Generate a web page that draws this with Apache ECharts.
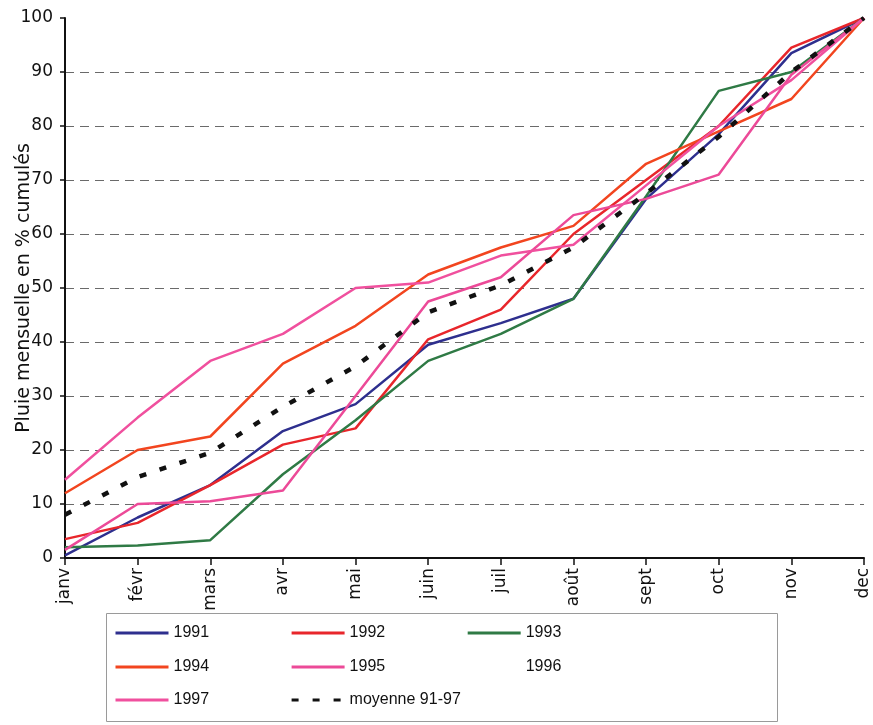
<!DOCTYPE html>
<html>
<head>
<meta charset="utf-8">
<script src="https://cdn.jsdelivr.net/npm/echarts@6/dist/echarts.min.js"></script>
<style>
  html, body { margin: 0; padding: 0; background: #fff; }
  #chart { width: 873px; height: 725px; }
</style>
</head>
<body>
<div id="chart"></div>
<script>
// Cumulative monthly rainfall, % of the yearly total
const months = ['janv', 'févr', 'mars', 'avr', 'mai', 'juin', 'juil', 'août', 'sept', 'oct', 'nov', 'dec'];
const yTicks = [0, 10, 20, 30, 40, 50, 60, 70, 80, 90, 100];

const y1991 = [0.5, 7.5, 13.5, 23.5, 28.5, 39.5, 43.5, 48, 66.5, 78.5, 93.5, 100];
const y1992 = [3.5, 6.5, 13.5, 21, 24, 40.5, 46, 60, 70, 80, 94.5, 100];
const y1993 = [2, 2.3, 3.3, 15.5, 25.5, 36.5, 41.5, 48, 67, 86.5, 90, 100];
const y1994 = [12, 20, 22.5, 36, 43, 52.5, 57.5, 61.5, 73, 79, 85, 100];
const y1995 = [1.5, 10, 10.5, 12.5, 30, 47.5, 52, 63.5, 66.5, 71, 89.5, 100];
const y1996 = [];
const y1997 = [14.5, 26, 36.5, 41.5, 50, 51, 56, 58, 69, 80, 88.5, 100];
const moyenne = [8, 15, 19.5, 28, 35.5, 45.5, 50.5, 57.5, 67.5, 78, 90, 100];

const names = ['1991', '1992', '1993', '1994', '1995', '1996', '1997', 'moyenne 91-97'];
const colors = ['#2E2F8E', '#E8262B', '#2F7A45', '#F2451F', '#EC4A98', 'rgba(0,0,0,0)', '#F0509E', '#111111'];
const values = [y1991, y1992, y1993, y1994, y1995, y1996, y1997, moyenne];

const chart = echarts.init(document.getElementById('chart'));

const series = names.map((n, i) => {
  const dashed = i === 7;
  return {
    name: n,
    type: 'line',
    data: values[i],
    symbol: 'none',
    showSymbol: false,
    smooth: false,
    z: dashed ? 10 : 2,
    itemStyle: { color: colors[i] },
    lineStyle: {
      color: colors[i],
      width: dashed ? 4.5 : 2.5,
      type: dashed ? [7, 14] : 'solid',
      cap: 'butt'
    }
  };
});

// split line colours: hide the ones at 0 and 100
const splitColors = yTicks.map((v, i) => (i === 0 || i === yTicks.length - 1) ? 'rgba(0,0,0,0)' : '#6a6a6a');

function legendRow(items, top) {
  return {
    show: true,
    orient: 'horizontal',
    left: 109,
    top: top,
    itemWidth: 53,
    itemHeight: 14,
    itemGap: 81,
    selectedMode: false,
    itemStyle: { opacity: 0 },
    lineStyle: { width: 3, opacity: 1 },
    data: items,
    textStyle: { fontFamily: 'Liberation Sans, Arial, sans-serif', fontSize: 16, color: '#111' }
  };
}

const option = {
  animation: false,
  backgroundColor: '#fff',
  grid: { left: 65, right: 9, top: 18, bottom: 167, containLabel: false, outerBoundsMode: 'none' },
  legend: [
    legendRow(['1991', '1992', '1993'], 620),
    legendRow(['1994', '1995', '1996'], 654),
    legendRow(['1997', 'moyenne 91-97'], 687)
  ],
  graphic: [
    {
      type: 'rect',
      shape: { x: 106.5, y: 613.5, width: 671, height: 108 },
      style: { fill: 'none', stroke: '#9a9a9a', lineWidth: 1 },
      silent: true
    }
  ],
  xAxis: {
    type: 'category',
    data: months,
    boundaryGap: false,
    axisLine: { lineStyle: { color: '#111', width: 2 } },
    axisTick: { show: true, interval: 0, length: 7, lineStyle: { color: '#111', width: 1.5 } },
    axisLabel: {
      interval: 0,
      rotate: 90,
      margin: 10,
      fontFamily: 'DejaVu Sans, sans-serif',
      fontSize: 17,
      color: '#111'
    },
    splitLine: { show: false }
  },
  yAxis: {
    type: 'value',
    min: 0,
    max: 100,
    interval: 10,
    name: 'Pluie mensuelle en % cumulés',
    nameLocation: 'middle',
    nameGap: 31,
    nameMoveOverlap: false,
    nameTextStyle: { fontFamily: 'DejaVu Sans, sans-serif', fontSize: 19, color: '#111' },
    axisLine: { show: true, lineStyle: { color: '#111', width: 2 } },
    axisTick: { show: true, length: 5, lineStyle: { color: '#111', width: 1.5 } },
    axisLabel: {
      margin: 12,
      fontFamily: 'DejaVu Sans, sans-serif',
      fontSize: 17,
      color: '#111'
    },
    splitLine: { show: true, lineStyle: { color: splitColors, width: 1.2, type: [9, 6] } }
  },
  series: series
};

chart.setOption(option);
</script>
</body>
</html>
